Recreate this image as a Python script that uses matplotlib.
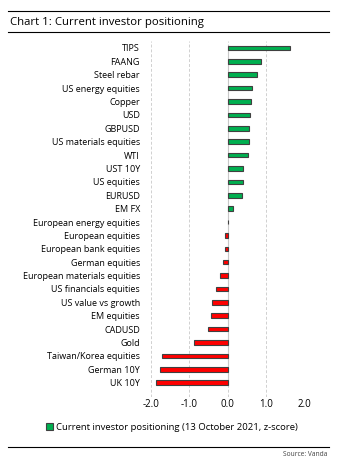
import numpy as np
import matplotlib.pyplot as plt
from matplotlib.patches import Patch
from matplotlib.lines import Line2D

plt.rcParams['font.family'] = ['Open Sans', 'DejaVu Sans']

labels = ['TIPS', 'FAANG', 'Steel rebar', 'US energy equities', 'Copper', 'USD',
          'GBPUSD', 'US materials equities', 'WTI', 'UST 10Y', 'US equities',
          'EURUSD', 'EM FX', 'European energy equities', 'European equities',
          'European bank equities', 'German equities', 'European materials equities',
          'US financials equities', 'US value vs growth', 'EM equities', 'CADUSD',
          'Gold', 'Taiwan/Korea equities', 'German 10Y', 'UK 10Y']
values = [1.63, 0.87, 0.75, 0.64, 0.61, 0.58, 0.55, 0.55, 0.53, 0.40, 0.40,
          0.37, 0.14, 0.01, -0.07, -0.08, -0.12, -0.20, -0.30, -0.41, -0.43,
          -0.51, -0.88, -1.71, -1.76, -1.86]
xticks = [-2.0, -1.0, 0.0, 1.0, 2.0]

green = '#00B050'
red = '#FF0000'

fig = plt.figure(figsize=(3.42, 4.68), dpi=100)
ax_top, ax_bot = 41, 397
ax = fig.add_axes([151 / 342, 1 - ax_bot / 468, (304.5 - 151) / 342, (ax_bot - ax_top) / 468])

n = len(labels)
y = np.arange(n)
colors = [green if v >= 0 else red for v in values]
ax.barh(y, values, height=0.34, color=colors, edgecolor='#404040', linewidth=0.8, zorder=3)
ax.set_ylim(n - 1 + 1.07, -0.52)
ax.set_xlim(-2, 2)
ax.set_yticks(y)
ax.set_yticklabels(labels, fontsize=6.5)
ax.set_xticks(xticks)
ax.set_xticklabels(['%.1f' % t for t in xticks], fontsize=7)
ax.tick_params(axis='y', length=0, pad=8)
ax.tick_params(axis='x', length=0, pad=1.5)
for s in ax.spines.values():
    s.set_visible(False)
ax.grid(axis='x', linestyle=(0, (3, 2)), color='#d0d0d0', linewidth=0.7, zorder=0)
ax.axvline(0, ymin=(ax_bot - 385) / (ax_bot - ax_top), ymax=(ax_bot - 45) / (ax_bot - ax_top),
           color='#c8c8c8', linewidth=0.8, zorder=2)

# title and frame lines
for yy in (11, 32, 447):
    fig.add_artist(Line2D([8 / 342, 329 / 342], [1 - yy / 468] * 2, color='black', linewidth=0.8))
fig.text(10 / 342, 1 - 22 / 468, 'Chart 1: Current investor positioning', fontsize=8.2,
         va='center', ha='left')
fig.text(327 / 342, 1 - 454 / 468, 'Source: Vanda', fontsize=4.8, color='#404040',
         va='center', ha='right')

handle = Patch(facecolor=green, edgecolor='#404040', linewidth=0.8)
fig.legend([handle], ['Current investor positioning (13 October 2021, z-score)'],
           loc='center', bbox_to_anchor=(172 / 342, 1 - 427 / 468), frameon=False,
           fontsize=6.8, handlelength=0.75, handleheight=0.75, handletextpad=0.3)

fig.savefig('out.png', dpi=100)
